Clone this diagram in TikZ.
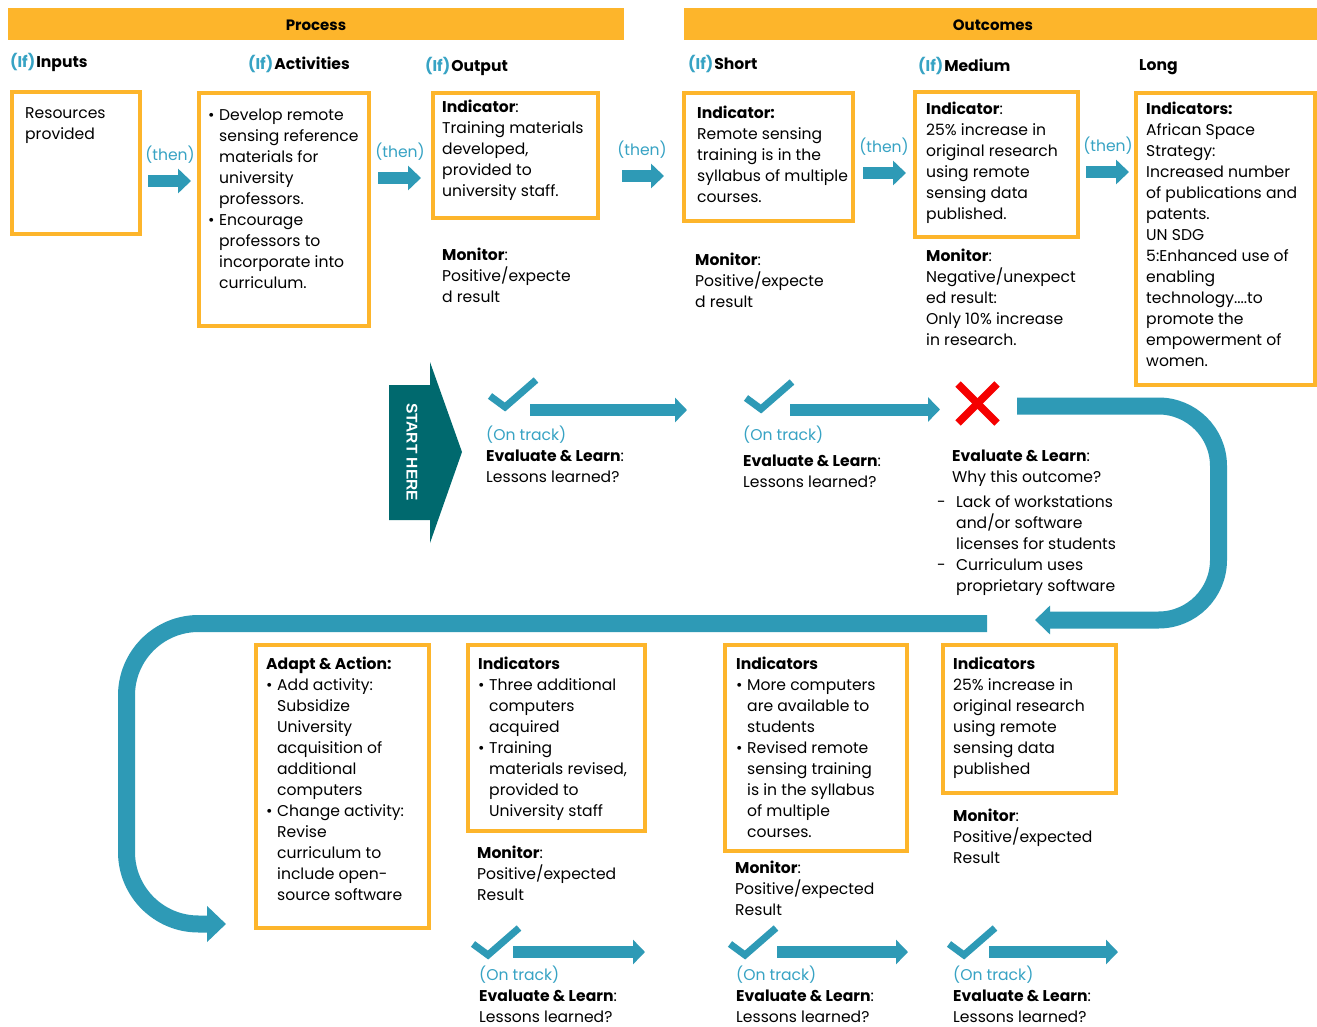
\documentclass[tikz,border=0pt]{standalone}
\usepackage{fontspec}
\setmainfont{Poppins}
\newfontfamily\startfont{Liberation Sans}
\usetikzlibrary{arrows.meta}

\definecolor{amber}{RGB}{253,181,43}
\definecolor{flowteal}{RGB}{46,154,182}
\definecolor{tealtxt}{RGB}{55,163,196}
\definecolor{deepteal}{RGB}{0,105,110}
\definecolor{crossred}{RGB}{245,0,0}

\newcommand\txtsz{\fontsize{15.6}{21}\selectfont}
\newcommand\firstln{\rule{0pt}{16pt}}
\newcommand\blt{\makebox[11pt][l]{•}}
\newcommand\bltind{\hspace*{11pt}}
\newcommand\dsh{\makebox[19pt][l]{-}}
\newcommand\dshind{\hspace*{19pt}}

\tikzset{
  txt/.style={anchor=north west, inner sep=0pt, align=left, font=\txtsz, yshift=16pt},
  colhead/.style={anchor=base west, inner sep=0pt, font=\txtsz\bfseries},
  barhead/.style={anchor=base, inner sep=0pt, font=\fontsize{15}{18}\selectfont\bfseries},
  obox/.style={draw=amber, line width=4pt, anchor=north west, inner sep=0pt},
  bar/.style={fill=amber, anchor=north west, inner sep=0pt, outer sep=0pt},
  thenlbl/.style={anchor=base, inner sep=0pt, font=\txtsz, text=tealtxt},
  thenarr/.style={draw=flowteal, line width=12pt, -{Triangle[length=13pt,width=24pt]}},
  flowarr/.style={draw=flowteal, line width=12pt, -{Triangle[length=12pt,width=24pt]}},
  tick/.style={draw=flowteal, line width=7pt},
  cross/.style={draw=crossred, line width=7.5pt},
  loopband/.style={draw=flowteal, line width=17pt},
}

\newcommand\tickat[1]{\draw[tick] (#1) -- ++(15,11) -- ++(31,-27);}

\begin{document}
\begin{tikzpicture}[x=1pt, y=-1pt]
\fill[white] (0,0) rectangle (1317,1027);
\useasboundingbox (0,0) rectangle (1317,1027);

% ---- header bars
\node[bar, minimum width=616, minimum height=32] (procbar) at (8,8) {};
\node[bar, minimum width=633, minimum height=32] (outbar) at (684,8) {};
\node[barhead] (proctxt) at (316,31) {Process};
\node[barhead] (outtxt) at (993,31) {Outcomes};

% ---- column headings
\node[colhead] (hinp) at (10,68) {\textcolor{tealtxt}{(If)}\kern1pt Inputs};
\node[colhead] (hact) at (248,70) {\textcolor{tealtxt}{(If)}\kern1pt Activities};
\node[colhead] (hout) at (425,72) {\textcolor{tealtxt}{(If)}\kern1pt Output};
\node[colhead] (hsho) at (688,70) {\textcolor{tealtxt}{(If)}\kern1pt Short};
\node[colhead] (hmed) at (918,72) {\textcolor{tealtxt}{(If)}\kern1pt Medium};
\node[colhead] (hlng) at (1139,71) {Long};

% ---- top row boxes
\node[obox, minimum width=128, minimum height=142] (inp) at (10,90) {};
\node[obox, minimum width=170, minimum height=233] (act) at (197,91) {};
\node[obox, minimum width=165, minimum height=125] (out) at (431,91) {};
\node[obox, minimum width=169, minimum height=128] (sho) at (682,91) {};
\node[obox, minimum width=163, minimum height=145] (med) at (913,90) {};
\node[obox, minimum width=179, minimum height=292] (lng) at (1134,91) {};

\node[txt] (tinp) at (25,118) {\firstln Resources\\provided};
\node[txt] (tact) at (208,120) {\firstln\blt Develop remote\\
  \bltind sensing reference\\ \bltind materials for\\ \bltind university\\
  \bltind professors.\\ \blt Encourage\\ \bltind professors to\\
  \bltind incorporate into\\ \bltind curriculum.};
\node[txt] (tout) at (442,112) {\firstln\textbf{Indicator}:\\Training materials\\developed,\\provided to\\university staff.};
\node[txt] (tsho) at (697,118) {\firstln\textbf{Indicator:}\\Remote sensing\\training is in the\\syllabus of multiple\\courses.};
\node[txt] (tmed) at (926,114) {\firstln\textbf{Indicator}:\\25\% increase in\\original research\\using remote\\sensing data\\published.};
\node[txt] (tlng) at (1146,114) {\firstln\textbf{Indicators:}\\African Space\\Strategy:\\Increased number\\of publications and\\patents.\\UN SDG\\5:Enhanced use of\\enabling\\technology....to\\promote the\\empowerment of\\women.};

% ---- monitors, top row
\node[txt] (mout) at (442,260) {\firstln\textbf{Monitor}:\\Positive/expecte\\d result};
\node[txt] (msho) at (695,265) {\firstln\textbf{Monitor}:\\Positive/expecte\\d result};
\node[txt] (mmed) at (926,261) {\firstln\textbf{Monitor}:\\Negative/unexpect\\ed result:\\Only 10\% increase\\in research.};

% ---- (then) arrows
\node[thenlbl] (th1) at (170,161) {(then)};
\node[thenlbl] (th2) at (400,158) {(then)};
\node[thenlbl] (th3) at (642,156) {(then)};
\node[thenlbl] (th4) at (884,153) {(then)};
\node[thenlbl] (th5) at (1108,152) {(then)};
\coordinate (a1s) at (148,181);  \coordinate (a1e) at (191,181);
\coordinate (a2s) at (378,178);  \coordinate (a2e) at (421,178);
\coordinate (a3s) at (622,176);  \coordinate (a3e) at (664,176);
\coordinate (a4s) at (863,173);  \coordinate (a4e) at (906,173);
\coordinate (a5s) at (1086,172); \coordinate (a5e) at (1129,172);
\draw[thenarr] (a1s) -- (a1e);
\draw[thenarr] (a2s) -- (a2e);
\draw[thenarr] (a3s) -- (a3e);
\draw[thenarr] (a4s) -- (a4e);
\draw[thenarr] (a5s) -- (a5e);

% ---- start marker
\fill[deepteal] (389,385) -- (430,385) -- (430,362) -- (462,452) -- (430,543) -- (430,520) -- (389,520) -- cycle;
\node[rotate=-90, text=white, font=\startfont\bfseries\fontsize{15.5}{18}\selectfont, inner sep=0pt] (start) at (412,452) {START HERE};

% ---- evaluation row
\coordinate (k1) at (490,396);
\coordinate (k2) at (746,398);
\tickat{k1}
\tickat{k2}
\coordinate (e1s) at (530,410);   \coordinate (e1e) at (687,410);
\coordinate (e2s) at (790,409.5); \coordinate (e2e) at (940,409.5);
\draw[flowarr] (e1s) -- (e1e);
\draw[flowarr] (e2s) -- (e2e);
\draw[cross] (958,384) -- (997,423);
\draw[cross] (997,384) -- (958,423);

\node[txt] (ev1) at (486,440) {\firstln\textcolor{tealtxt}{(On track)}\\\textbf{Evaluate \& Learn}:\\Lessons learned?};
\node[txt] (ev2) at (743,440) {\firstln\textcolor{tealtxt}{(On track)}\\[5pt]\textbf{Evaluate \& Learn}:\\Lessons learned?};
\node[txt] (ev3) at (952,461) {\firstln\textbf{Evaluate \& Learn}:\\Why this outcome?};
\node[txt] (why) at (937,507) {\firstln\dsh Lack of workstations\\\dshind and/or software\\\dshind licenses for students\\\dsh Curriculum uses\\\dshind proprietary software};

% ---- feedback loops
\coordinate (r0) at (1017,406);
\coordinate (r1) at (1035,620);
\draw[loopband, rounded corners=60, -{Triangle[length=15pt,width=28pt]}]
  (r0) -- (1218.5,406) -- (1218.5,620) -- (r1);
\coordinate (l0) at (987,623.5);
\coordinate (l1) at (226,924);
\draw[loopband, rounded corners=72, -{Triangle[length=19pt,width=35pt]}]
  (l0) -- (126.5,623.5) -- (126.5,924) -- (l1);

% ---- bottom row boxes
\node[obox, minimum width=173, minimum height=283] (adp) at (254,643) {};
\node[obox, minimum width=177, minimum height=186] (ind2) at (466,643) {};
\node[obox, minimum width=182, minimum height=206] (ind3) at (723,643) {};
\node[obox, minimum width=173, minimum height=148] (ind4) at (941,643) {};

\node[txt] (tadp) at (266,669) {\firstln\textbf{Adapt \& Action:}\\
  \blt Add activity:\\ \bltind Subsidize\\ \bltind University\\
  \bltind acquisition of\\ \bltind additional\\ \bltind computers\\
  \blt Change activity:\\ \bltind Revise\\ \bltind curriculum to\\
  \bltind include open-\\ \bltind source software};
\node[txt] (tind2) at (478,669) {\firstln\textbf{Indicators}\\
  \blt Three additional\\ \bltind computers\\ \bltind acquired\\
  \blt Training\\ \bltind materials revised,\\ \bltind provided to\\
  \bltind University staff};
\node[txt] (tind3) at (736,669) {\firstln\textbf{Indicators}\\
  \blt More computers\\ \bltind are available to\\ \bltind students\\
  \blt Revised remote\\ \bltind sensing training\\ \bltind is in the syllabus\\
  \bltind of multiple\\ \bltind courses.};
\node[txt] (tind4) at (953,669) {\firstln\textbf{Indicators}\\25\% increase in\\original research\\using remote\\sensing data\\published};

\node[txt] (mind2) at (477,858) {\firstln\textbf{Monitor}:\\Positive/expected\\Result};
\node[txt] (mind3) at (735,873) {\firstln\textbf{Monitor}:\\Positive/expected\\Result};
\node[txt] (mind4) at (953,821) {\firstln\textbf{Monitor}:\\Positive/expected\\Result};

% ---- bottom evaluation row
\coordinate (k3) at (473,944);
\coordinate (k4) at (730,944);
\coordinate (k5) at (949,944);
\tickat{k3}
\tickat{k4}
\tickat{k5}
\coordinate (b1s) at (513,952); \coordinate (b1e) at (645,952);
\coordinate (b2s) at (777,952); \coordinate (b2e) at (908,952);
\coordinate (b3s) at (989,952); \coordinate (b3e) at (1118,952);
\draw[flowarr] (b1s) -- (b1e);
\draw[flowarr] (b2s) -- (b2e);
\draw[flowarr] (b3s) -- (b3e);

\node[txt] (ev4) at (479,980) {\firstln\textcolor{tealtxt}{(On track)}\\\textbf{Evaluate \& Learn}:\\Lessons learned?};
\node[txt] (ev5) at (736,980) {\firstln\textcolor{tealtxt}{(On track)}\\\textbf{Evaluate \& Learn}:\\Lessons learned?};
\node[txt] (ev6) at (953,980) {\firstln\textcolor{tealtxt}{(On track)}\\\textbf{Evaluate \& Learn}:\\Lessons learned?};
\end{tikzpicture}
\end{document}
